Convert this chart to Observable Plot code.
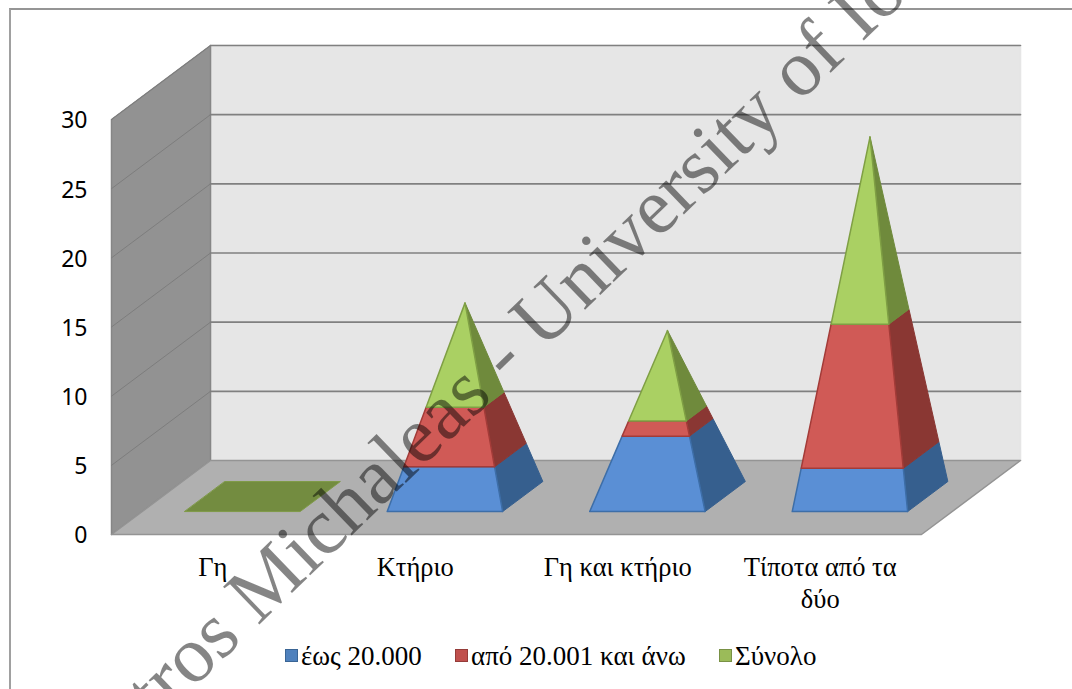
<!DOCTYPE html>
<html lang="el">
<head>
<meta charset="utf-8">
<script src="https://cdn.jsdelivr.net/npm/d3@7"></script>
<script src="https://cdn.jsdelivr.net/npm/@observablehq/plot@0.6"></script>
<style>
html,body{margin:0;padding:0;background:#fff;width:1072px;height:689px;overflow:hidden}
#page{position:relative;width:1072px;height:689px;overflow:hidden}
#border{position:absolute;left:9px;top:8px;right:-4px;bottom:-4px;border-top:2px solid #959595;border-left:2px solid #a0a0a0;pointer-events:none}
#chart{position:absolute;left:0;top:0}
#legend{position:absolute;left:0;top:630px;width:1072px;height:59px;font:27px "Liberation Serif",serif;color:#000}
.item{position:absolute;top:12px;display:flex;align-items:center;white-space:nowrap;line-height:28px}
.sw{display:inline-block;width:11px;height:11px;border:1.5px solid;margin-right:3px;margin-top:-1px}
</style>
</head>
<body>
<div id="page"><div id="border"></div><div id="chart"></div><div id="legend"></div></div>
<script>
const categories = ["Γη", "Κτήριο", "Γη και κτήριο", "Τίποτα από τα\nδύο"];
const seriesNames = ["έως 20.000", "από 20.001 και άνω", "Σύνολο"];
const upTo20000 = [0, 3, 5, 3];
const above20000 = [0, 4, 1, 10];
const total = [0, 7, 6, 13];
const yTicks = [0, 5, 10, 15, 20, 25, 30];
const watermark = "Petros Michaleas - University of Ioannina";

const seriesValues = [upTo20000, above20000, total];
const styles = [
  {front: "#5a8fd5", side: "#365f8e", edge: "#3d6ea8", swatch: "#4f81bd", swEdge: "#3a6595"},
  {front: "#d05a56", side: "#8a3733", edge: "#a33b38", swatch: "#c0504d", swEdge: "#953c39"},
  {front: "#aad063", side: "#6f8a3c", edge: "#7f9f44", swatch: "#9bbb59", swEdge: "#799145"}
];

// pseudo-3D oblique projection, expressed in the units of the x and y scales
const depthX = 0.489, depthY = 5.35;
const zFront = 0.31, zBack = 0.716, zMid = (zFront + zBack) / 2, halfD = (zBack - zFront) / 2, halfW = 0.285, shiftX = 0.495;
const pt = (x, v, z) => ({x: x + z * depthX, y: v + z * depthY});

// walls
const leftWall = [pt(0,0,0), pt(0,30,0), pt(0,30,1), pt(0,0,1)];
const backWall = [pt(0,0,1), pt(0,30,1), pt(4,30,1), pt(4,0,1)];
const floor = [pt(0,0,0), pt(4,0,0), pt(4,0,1), pt(0,0,1)];
const backGrid = yTicks.slice(1).flatMap(v => [{...pt(0,v,1), v}, {...pt(4,v,1), v}]);
const sideGrid = yTicks.slice(1).flatMap(v => [{...pt(0,v,0), v}, {...pt(0,v,1), v}]);

// one corner of a pyramid slice at height h
function corner(i, H, h, sx, sz) {
  const t = H > 0 ? 1 - h / H : 1;
  return pt(i + shiftX + sx * halfW * t, h, zMid + sz * halfD * t);
}
const faceMarks = [];
categories.forEach((_, i) => {
  const H = seriesValues.reduce((s, a) => s + a[i], 0);
  let h0 = 0;
  seriesValues.forEach((vals, k) => {
    const h1 = h0 + vals[i];
    if (vals[i] > 0) {
      const st = styles[k];
      const side = [corner(i,H,h0,1,-1), corner(i,H,h0,1,1), corner(i,H,h1,1,1), corner(i,H,h1,1,-1)];
      const front = [corner(i,H,h0,-1,-1), corner(i,H,h0,1,-1), corner(i,H,h1,1,-1), corner(i,H,h1,-1,-1)];
      faceMarks.push(Plot.line(side, {x:"x", y:"y", fill:st.side, stroke:st.side, strokeWidth:1, curve:"linear-closed"}));
      faceMarks.push(Plot.line(front, {x:"x", y:"y", fill:st.front, stroke:st.edge, strokeWidth:1.5, curve:"linear-closed"}));
    }
    h0 = h1;
  });
  if (H === 0) {
    const base = [corner(i,0,0,-1,-1), corner(i,0,0,1,-1), corner(i,0,0,1,1), corner(i,0,0,-1,1)];
    faceMarks.push(Plot.line(base, {x:"x", y:"y", fill:"#738c40", stroke:"#7f9a48", strokeWidth:1, curve:"linear-closed"}));
  }
});

const wall = (pts, fill, stroke) => Plot.line(pts, {x:"x", y:"y", fill, stroke, strokeWidth:1.5, curve:"linear-closed"});

const plot = Plot.plot({
  width: 1072, height: 630,
  marginLeft: 111, marginRight: 151, marginTop: 119, marginBottom: 96,
  style: {background: "transparent", overflow: "visible"},
  x: {domain: [0, 4]},
  y: {domain: [0, 30]},
  marks: [
    wall(backWall, "#e6e6e6", "#e6e6e6"),
    wall(leftWall, "#929292", "#868686"),
    wall(floor, "#b0b0b0", "#949494"),
    Plot.line(backGrid, {x:"x", y:"y", z:"v", stroke:"#808080", strokeWidth:1.6}),
    Plot.line(sideGrid, {x:"x", y:"y", z:"v", stroke:"#7d7d7d", strokeWidth:1}),
    ...faceMarks,
    Plot.axisY({ticks: yTicks, tickSize: 0, tickPadding: 24, label: null, fontSize: 23, fontFamily: "'Noto Sans'", fill: "#000", dy: 1.5}),
    Plot.axisX({ticks: categories.map((_, i) => i + 0.5), tickFormat: d => categories[d - 0.5], tickSize: 0, tickPadding: 19,
      label: null, fontSize: 26.5, fontFamily: "'Liberation Serif'", fill: "#000", lineHeight: 1.2}),
    Plot.text([watermark], {text: d => d, frameAnchor: "middle", rotate: -44, dx: 47, dy: -32, fontSize: 80,
      fontFamily: "'Liberation Serif'", fill: "#000", fillOpacity: 0.48})
  ]
});
document.getElementById("chart").appendChild(plot);

const legendX = [285, 455, 719];
const legend = document.getElementById("legend");
seriesNames.forEach((name, k) => {
  const it = document.createElement("div");
  it.className = "item";
  it.style.left = legendX[k] + "px";
  const sw = document.createElement("span");
  sw.className = "sw";
  sw.style.background = styles[k].swatch;
  sw.style.borderColor = styles[k].swEdge;
  it.appendChild(sw);
  it.appendChild(document.createTextNode(name));
  legend.appendChild(it);
});
</script>
</body>
</html>
